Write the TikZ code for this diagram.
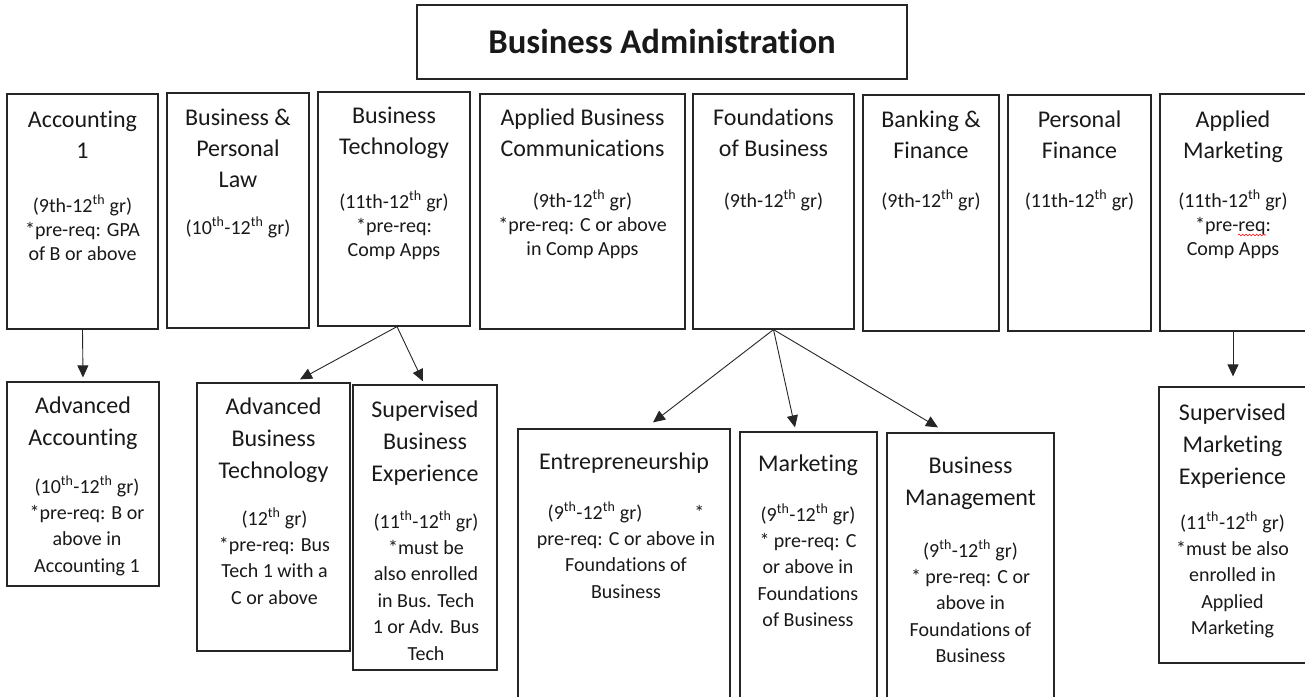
\documentclass[tikz,border=0pt]{standalone}
\usepackage{fontspec}
\setmainfont{Carlito}[Ligatures=NoCommon]
\usetikzlibrary{arrows.meta,calc,decorations.pathmorphing}
\newcommand\hdfont{\fontsize{24}{31}\selectfont}
\newcommand\hdfontb{\fontsize{24}{32}\selectfont}
\newcommand\smfont{\fontsize{20}{24.4}\selectfont}
\newcommand\smfontb{\fontsize{20}{26.4}\selectfont}
\newcommand\ttlfont{\fontsize{34.7}{40}\selectfont\bfseries}
\newcommand\supth{\textsuperscript{th}}
\newcommand\HT[2]{\parbox[t]{240pt}{\centering#1#2}}
\tikzset{
  box/.style={draw=black!85, line width=1.2pt, rectangle, inner sep=0pt},
  txt/.style={anchor=base, inner sep=0pt, text=black!90},
  arr/.style={draw=black!85, line width=0.9pt, -{Triangle[length=12pt,width=11pt]}}
}
\begin{document}
\begin{tikzpicture}[x=1pt,y=-1pt]
\useasboundingbox (0,0) rectangle (1305,696);
% title
\node[box, minimum width=490pt, minimum height=74pt] (title) at (662,42) {};
\node[txt] (titletxt) at (662,53) {\ttlfont Business Administration};
% top row
\node[box, minimum width=151pt, minimum height=235pt] (acc) at (82.5,211.5) {};
\node[box, minimum width=142pt, minimum height=235pt] (bpl) at (238,210.5) {};
\node[box, minimum width=152pt, minimum height=234pt] (bt) at (394,209) {};
\node[box, minimum width=205pt, minimum height=235pt] (abc) at (582.5,211.5) {};
\node[box, minimum width=161pt, minimum height=235pt] (fob) at (773.5,211.5) {};
\node[box, minimum width=136pt, minimum height=236pt] (bf) at (931,213) {};
\node[box, minimum width=143pt, minimum height=236pt] (pf) at (1079.5,213) {};
\node[box, minimum width=146pt, minimum height=237pt] (am) at (1233,212.5) {};
% bottom row
\node[box, minimum width=152pt, minimum height=204pt] (advacc) at (83,484) {};
\node[box, minimum width=153pt, minimum height=268pt] (abt) at (273.5,517) {};
\node[box, minimum width=144pt, minimum height=285pt] (sbe) at (425,527.5) {};
\node[box, minimum width=212pt, minimum height=281pt] (ent) at (624,569.5) {};
\node[box, minimum width=137pt, minimum height=278pt] (mkt) at (808.5,571) {};
\node[box, minimum width=167pt, minimum height=277pt] (bm) at (970.5,571.5) {};
\node[box, minimum width=147pt, minimum height=276pt] (sme) at (1232.5,525) {};
% top row texts
\node[txt] (acch) at (82.5,127) {\HT\hdfont{Accounting\\1}};
\node[txt] (accd) at (82.5,212) {\HT\smfont{(9th-12\supth{} gr)\\{*}pre-req: GPA\\of B or above}};
\node[txt] (bplh) at (238,125) {\HT\hdfont{Business \&\\Personal\\Law}};
\node[txt] (bpld) at (238,234) {\HT\smfont{(10\supth-12\supth{} gr)}};
\node[txt] (bth) at (394,123) {\HT\hdfont{Business\\Technology}};
\node[txt] (btd) at (394,208) {\HT\smfont{(11th-12\supth{} gr)\\{*}pre-req:\\Comp Apps}};
\node[txt] (abch) at (582.5,125) {\HT\hdfont{Applied Business\\Communications}};
\node[txt] (abcd) at (582.5,207) {\HT\smfont{(9th-12\supth{} gr)\\{*}pre-req: C or above\\in Comp Apps}};
\node[txt] (fobh) at (773.5,125) {\HT\hdfont{Foundations\\of Business}};
\node[txt] (fobd) at (773.5,207) {\HT\smfont{(9th-12\supth{} gr)}};
\node[txt] (bfh) at (931,127) {\HT\hdfont{Banking \&\\Finance}};
\node[txt] (bfd) at (931,207) {\HT\smfont{(9th-12\supth{} gr)}};
\node[txt] (pfh) at (1079.5,127) {\HT\hdfont{Personal\\Finance}};
\node[txt] (pfd) at (1079.5,207) {\HT\smfont{(11th-12\supth{} gr)}};
\node[txt] (amh) at (1233,127) {\HT\hdfont{Applied\\Marketing}};
\node[txt] (amd) at (1233,207) {\HT\smfont{(11th-12\supth{} gr)\\{*}pre-req:\\Comp Apps}};
\draw[red, line width=0.6pt, decorate, decoration={snake, amplitude=0.9pt, segment length=3.5pt}] (1238,235) -- (1266,235);
% bottom row texts
\node[txt] (advacch) at (83,413) {\HT\hdfontb{Advanced\\Accounting}};
\node[txt] (advaccd) at (87,493) {\HT\smfontb{(10\supth-12\supth{} gr)\\{*}pre-req: B or\\above in\\Accounting 1}};
\node[txt] (abth) at (273.5,414) {\HT\hdfontb{Advanced\\Business\\Technology}};
\node[txt] (abtd) at (274.5,525) {\HT\smfontb{(12\supth{} gr)\\{*}pre-req: Bus\\Tech 1 with a\\C or above}};
\node[txt] (sbeh) at (425,417) {\HT\hdfontb{Supervised\\Business\\Experience}};
\node[txt] (sbed) at (426,528) {\HT\smfontb{(11\supth-12\supth{} gr)\\{*}must be\\also enrolled\\in Bus. Tech\\1 or Adv. Bus\\Tech}};
\node[txt] (enth) at (624,469) {\HT\hdfontb{Entrepreneurship}};
\node[txt] (entd) at (626,519) {\HT\smfontb{(9\supth-12\supth{} gr)\hspace{52pt}{*}\\pre-req: C or above in\\Foundations of\\Business}};
\node[txt] (mkth) at (808,471) {\HT\hdfontb{Marketing}};
\node[txt] (mktd) at (808,521) {\HT\smfontb{(9\supth-12\supth{} gr)\\{*} pre-req: C\\or above in\\Foundations\\of Business}};
\node[txt] (bmh) at (970.5,473) {\HT\hdfontb{Business\\Management}};
\node[txt] (bmd) at (970.5,557) {\HT\smfontb{(9\supth-12\supth{} gr)\\{*} pre-req: C or\\above in\\Foundations of\\Business}};
\node[txt] (smeh) at (1232.5,420) {\HT\hdfontb{Supervised\\Marketing\\Experience}};
\node[txt] (smed) at (1232.5,529) {\HT\smfontb{(11\supth-12\supth{} gr)\\{*}must be also\\enrolled in\\Applied\\Marketing}};
% connectors
\draw[arr] (acc.south) -- ($(advacc.north)+(0,4pt)$);
\draw[arr] ($(bt.south)+(3pt,0)$) -- ($(abt.north)+(26.5pt,3pt)$);
\draw[arr] ($(bt.south)+(3pt,0)$) -- ($(sbe.north)+(-2pt,3pt)$);
\draw[arr] (fob.south) -- ($(ent.north)+(29pt,6pt)$);
\draw[arr] (fob.south) -- ($(mkt.north)+(-13.5pt,4pt)$);
\draw[arr] (fob.south) -- ($(bm.north)+(-32.5pt,5pt)$);
\draw[arr] (am.south) -- ($(sme.north)+(0.5pt,10pt)$);
\end{tikzpicture}
\end{document}
